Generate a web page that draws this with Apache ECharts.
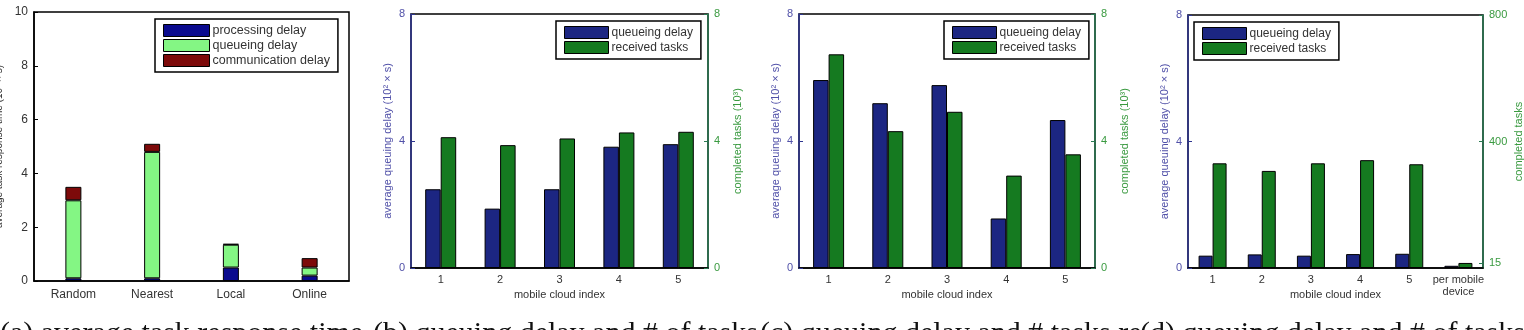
<!DOCTYPE html>
<html>
<head>
<meta charset="utf-8">
<script src="https://cdn.jsdelivr.net/npm/echarts@6/dist/echarts.min.js"></script>
<style>
  html, body { margin: 0; padding: 0; background: #fff; }
  #main { width: 1524px; height: 330px; }
</style>
</head>
<body>
<div id="main"></div>
<script>
// (a) 平均响应时间
var strategies = ['Random', 'Nearest', 'Local', 'Online']
var processingDelay = [0.1, 0.1, 0.5, 0.2]
var queueingDelayA = [2.9, 4.7, 0.85, 0.3]
var communicationDelay = [0.5, 0.3, 0.03, 0.35]

// (b)(c)(d) 排队时延 / 任务数
var cloudIndex = ['1', '2', '3', '4', '5']
var cloudIndexD = ['1', '2', '3', '4', '5', 'per mobile\ndevice']
var queueB = [2.48, 1.87, 2.48, 3.82, 3.9]
var tasksB = [4.12, 3.87, 4.08, 4.27, 4.29]
var queueC = [5.92, 5.19, 5.76, 1.56, 4.66]
var tasksC = [6.73, 4.31, 4.92, 2.91, 3.58]
var queueD = [0.39, 0.43, 0.39, 0.44, 0.45, 0.07]
var tasksD = [331, 307, 331, 341, 328, 16]
var rightTicksD = [15, 400, 800]

var captions = [
  '(a) average task response time',
  '(b) queuing delay and # of tasks',
  '(c) queuing delay and # tasks re-',
  '(d) queuing delay and # of tasks'
]

var navy = '#1c2682'
var green = '#157a20'
var axisBlue = '#2e3590'
var labelBlue = '#5050a8'
var axisGreen = '#2a7a52'
var labelGreen = '#3a9a40'
var font = 'Liberation Sans, Arial, sans-serif'

var myChart = echarts.init(document.getElementById('main'))

var grids = [
  { left: 34, right: 1524 - 349, top: 12, bottom: 330 - 281 },
  { left: 411, right: 1524 - 708, top: 14, bottom: 330 - 268 },
  { left: 799, right: 1524 - 1095, top: 14, bottom: 330 - 268 },
  { left: 1188, right: 1524 - 1483, top: 15, bottom: 330 - 268 }
]
grids.forEach(function (g) {
  g.show = true
  g.borderColor = '#000'
  g.borderWidth = 1.5
  g.containLabel = false
  // 不要自动收缩网格
  g.outerBoundsMode = 'none'
})

function xCat (gridIndex, data, withName) {
  return {
    type: 'category',
    gridIndex: gridIndex,
    data: data,
    axisLine: { lineStyle: { color: '#000', width: 1.5 } },
    axisTick: { inside: true, alignWithLabel: true, length: 4, lineStyle: { color: '#000' } },
    axisLabel: { color: '#333', fontSize: 11, fontFamily: font, margin: 6, lineHeight: 12, interval: 0 },
    name: withName ? 'mobile cloud index' : '',
    nameLocation: 'middle',
    nameGap: 21,
    nameMoveOverlap: false,
    nameTextStyle: { color: '#333', fontSize: 11, fontFamily: font }
  }
}

function yVal (gridIndex, pos, max, interval, lineColor, textColor, name, gap) {
  return {
    type: 'value',
    gridIndex: gridIndex,
    position: pos,
    min: 0,
    max: max,
    interval: interval,
    splitLine: { show: false },
    axisLine: { show: true, lineStyle: { color: lineColor, width: 1.5 } },
    axisTick: { show: true, inside: true, length: 4, lineStyle: { color: lineColor } },
    axisLabel: { color: textColor, fontSize: 11, fontFamily: font, margin: 6 },
    name: name,
    nameLocation: 'middle',
    nameGap: gap,
    nameMoveOverlap: false,
    nameTextStyle: { color: textColor, fontSize: 11, fontFamily: font }
  }
}

var xAxes = [
  xCat(0, strategies, false),
  xCat(1, cloudIndex, true),
  xCat(2, cloudIndex, true),
  xCat(3, cloudIndexD, true)
]
xAxes[0].axisLabel.fontSize = 12
xAxes[0].axisLabel.margin = 8

var yAxes = [
  yVal(0, 'left', 10, 2, '#000', '#333', 'average task response time (10² × s)', 30),
  yVal(1, 'left', 8, 4, axisBlue, labelBlue, 'average queuing delay (10² × s)', 18),
  yVal(1, 'right', 8, 4, axisGreen, labelGreen, 'completed tasks (10³)', 24),
  yVal(2, 'left', 8, 4, axisBlue, labelBlue, 'average queuing delay (10² × s)', 18),
  yVal(2, 'right', 8, 4, axisGreen, labelGreen, 'completed tasks (10³)', 24),
  yVal(3, 'left', 8, 4, axisBlue, labelBlue, 'average queuing delay (10² × s)', 18),
  yVal(3, 'right', 800, 400, axisGreen, labelGreen, 'completed tasks', 30)
]
yAxes[0].axisLabel.fontSize = 12
yAxes[0].nameTextStyle.fontSize = 10
// 右轴刻度 15 / 400 / 800
yAxes[6].axisLabel.customValues = rightTicksD
yAxes[6].axisTick.customValues = rightTicksD

var border = { borderColor: '#000', borderWidth: 1 }

function bar (name, x, y, data, color, width, stack) {
  return {
    name: name,
    type: 'bar',
    xAxisIndex: x,
    yAxisIndex: y,
    data: data,
    stack: stack,
    barWidth: width,
    barGap: 0,
    itemStyle: Object.assign({ color: color }, border),
    emphasis: { disabled: true }
  }
}

var series = [
  bar('processing delay', 0, 0, processingDelay, '#0a0a8e', 16, 'a'),
  bar('queueing delay', 0, 0, queueingDelayA, '#84f684', 16, 'a'),
  bar('communication delay', 0, 0, communicationDelay, '#7d0a0a', 16, 'a'),
  bar('queueing delay', 1, 1, queueB, navy, 15.5),
  bar('received tasks', 1, 2, tasksB, green, 15.5),
  bar('queueing delay', 2, 3, queueC, navy, 15.5),
  bar('received tasks', 2, 4, tasksC, green, 15.5),
  bar('queueing delay', 3, 5, queueD, navy, 14),
  bar('received tasks', 3, 6, tasksD, green, 14)
]

function legendBox (left, top, items, itemWidth) {
  return {
    left: left,
    top: top,
    orient: 'vertical',
    icon: 'rect',
    itemWidth: itemWidth,
    itemHeight: 12,
    itemGap: 2,
    padding: [5, 8, 5, 8],
    borderColor: '#000',
    borderWidth: 1.5,
    backgroundColor: '#fff',
    selectedMode: false,
    textStyle: { color: '#333', fontSize: 12, fontFamily: font, padding: [0, 0, 0, -2] },
    data: items
  }
}

var navyItem = { name: 'queueing delay', itemStyle: Object.assign({ color: navy }, border) }
var greenItem = { name: 'received tasks', itemStyle: Object.assign({ color: green }, border) }

var legends = [
  legendBox(155, 19, [
    { name: 'processing delay', itemStyle: Object.assign({ color: '#0a0a8e' }, border) },
    { name: 'queueing delay', itemStyle: Object.assign({ color: '#84f684' }, border) },
    { name: 'communication delay', itemStyle: Object.assign({ color: '#7d0a0a' }, border) }
  ], 46),
  legendBox(556, 21, [navyItem, greenItem], 44),
  legendBox(944, 21, [navyItem, greenItem], 44),
  legendBox(1194, 22, [navyItem, greenItem], 44)
]
legends[0].textStyle.fontSize = 12.5

// 图注（底部被截断）
var captionLeft = [0, 373, 760, 1140]
var graphics = captions.map(function (c, i) {
  return {
    type: 'text',
    left: captionLeft[i],
    top: 319,
    style: { text: c, fill: '#111', font: '30px "Liberation Serif", serif' }
  }
})

var option = {
  animation: false,
  grid: grids,
  xAxis: xAxes,
  yAxis: yAxes,
  legend: legends,
  series: series,
  graphic: graphics
}

myChart.clear()
myChart.setOption(option)
window.addEventListener('resize', function () {
  myChart.resize()
})
</script>
</body>
</html>
